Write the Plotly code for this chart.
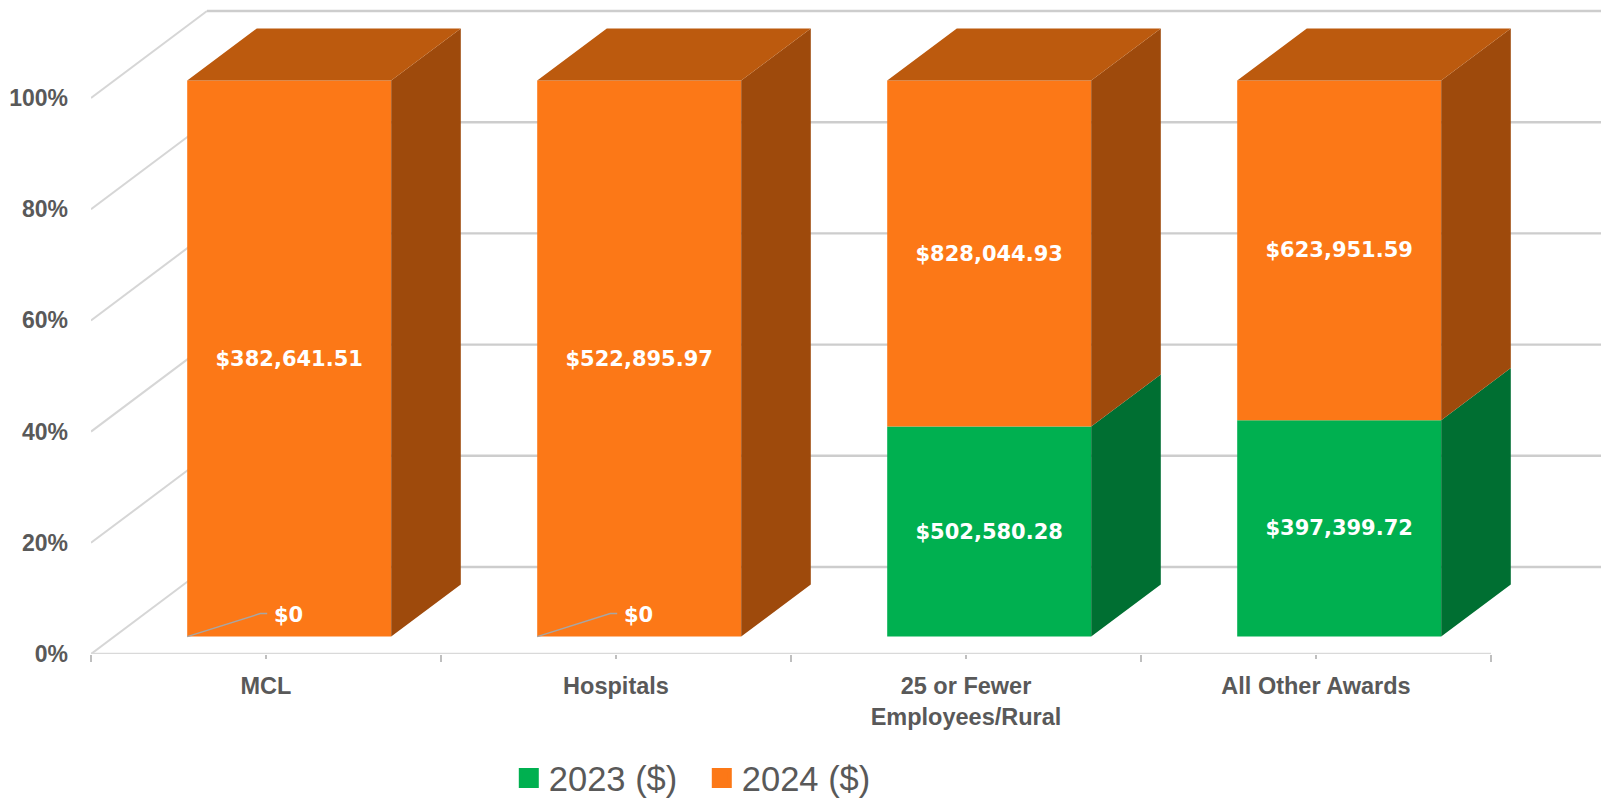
import plotly.graph_objects as go

categories = ["MCL", "Hospitals", "25 or Fewer<br>Employees/Rural", "All Other Awards"]
values_2023 = [0, 0, 502580.28, 397399.72]
values_2024 = [382641.51, 522895.97, 828044.93, 623951.59]
series_names = ["2023 ($)", "2024 ($)"]
y_ticks = [0, 20, 40, 60, 80, 100]
y_tick_labels = ["0%", "20%", "40%", "60%", "80%", "100%"]

GREEN, GREEN_SIDE = "#00B050", "#006F32"
ORANGE, ORANGE_SIDE, ORANGE_TOP = "#FC7817", "#9E4A0C", "#BC5A0E"
TEXT = "#595959"
FONT = "Liberation Sans"
LABEL_FONT = "DejaVu Sans"

# 3D look: oblique projection, in axis units
DX, DY = 116 / 350, 87 / 5.56
Z0, Z1 = 0.2, 0.8
BAR_W = 204 / 350
XMAX, YMAX = 1510 / 350, 654 / 5.56


def proj(x, y, z):
    return x + DX * z, y + DY * z


totals = [a + b for a, b in zip(values_2023, values_2024)]
pct_2023 = [100 * a / t for a, t in zip(values_2023, totals)]
pct_2024 = [100 * b / t for b, t in zip(values_2024, totals)]

fig = go.Figure()


def money(v):
    return f"${v:,.2f}" if v else ""


bar_x = [proj(i + 0.5, 0, Z0)[0] for i in range(4)]
base_y = proj(0, 0, Z0)[1]

fig.add_bar(x=bar_x, y=pct_2023, base=[base_y] * 4, width=BAR_W,
            marker=dict(color=GREEN, line=dict(width=0)), name=series_names[0],
            legendgroup="a", showlegend=False,
            text=[money(v) for v in values_2023])
fig.add_bar(x=bar_x, y=pct_2024, base=[base_y + p for p in pct_2023], width=BAR_W,
            marker=dict(color=ORANGE, line=dict(width=0)), name=series_names[1],
            legendgroup="b", showlegend=False,
            text=[money(v) for v in values_2024])
fig.update_traces(textposition="inside", insidetextanchor="middle", textangle=0,
                  constraintext="none",
                  textfont=dict(family=LABEL_FONT, size=21, color="white", weight=700))


def polygons(faces):
    xs, ys = [], []
    for f in faces:
        for p in f + [f[0]]:
            xs.append(p[0])
            ys.append(p[1])
        xs.append(None)
        ys.append(None)
    return xs, ys


def side_face(i, lo, hi):
    xr = i + 0.5 + BAR_W / 2
    return [proj(xr, lo, Z0), proj(xr, lo, Z1), proj(xr, hi, Z1), proj(xr, hi, Z0)]


def top_face(i, y):
    xl, xr = i + 0.5 - BAR_W / 2, i + 0.5 + BAR_W / 2
    return [proj(xl, y, Z0), proj(xr, y, Z0), proj(xr, y, Z1), proj(xl, y, Z1)]


def add_poly(faces, color, group):
    xs, ys = polygons(faces)
    fig.add_scatter(x=xs, y=ys, mode="lines", fill="toself", fillcolor=color,
                    line=dict(width=0, color=color), hoverinfo="skip",
                    legendgroup=group, showlegend=False)


add_poly([side_face(i, 0, pct_2023[i]) for i in range(4) if pct_2023[i] > 0], GREEN_SIDE, "a")
add_poly([side_face(i, pct_2023[i], 100) for i in range(4)], ORANGE_SIDE, "b")
add_poly([top_face(i, 100) for i in range(4)], ORANGE_TOP, "b")

# Native legend, large square swatches
for name, color, group in [(series_names[0], GREEN, "a"), (series_names[1], ORANGE, "b")]:
    fig.add_scatter(x=[None], y=[None], mode="markers", name=name, legendgroup=group,
                    marker=dict(symbol="square", size=16, color=color,
                                line=dict(width=4, color=color)))

# Leader lines and labels of the zero segments
for i, v in enumerate(values_2023):
    if v == 0:
        x0, y0 = proj(i + 0.5 - BAR_W / 2, 0, Z0)
        fig.add_scatter(x=[x0, x0 + 73 / 350, x0 + 80 / 350],
                        y=[y0, y0 + 23 / 5.56, y0 + 23 / 5.56],
                        mode="lines", line=dict(color="#A6A6A6", width=1.5),
                        hoverinfo="skip", showlegend=False)
        fig.add_annotation(x=x0 + 101 / 350, y=y0 + 22 / 5.56, text="$0", showarrow=False,
                           font=dict(family=LABEL_FONT, size=21, color="white", weight=700))

# Walls: gridlines run along the floor side, then along the back wall
shapes = []
for t in y_ticks:
    fx, fy = proj(0, t, 0)
    bx, by = proj(0, t, 1)
    ex, ey = proj(4, t, 1)
    shapes.append(dict(type="line", xref="x", yref="y", layer="below",
                       x0=fx, y0=fy, x1=bx, y1=by,
                       line=dict(color="#D6D6D6", width=2)))
    shapes.append(dict(type="line", xref="x", yref="y", layer="below",
                       x0=bx, y0=by, x1=ex, y1=ey,
                       line=dict(color="#CDCDCD", width=2.4)))
shapes.append(dict(type="line", xref="x", yref="y", layer="below", x0=0, y0=0, x1=4, y1=0,
                   line=dict(color="#D9D9D9", width=2.4)))

fig.update_layout(
    width=1601, height=798, autosize=False,
    margin=dict(l=91, r=0, t=0, b=144),
    paper_bgcolor="white", plot_bgcolor="white",
    barmode="overlay", shapes=shapes,
    font=dict(family=FONT, color=TEXT),
    xaxis=dict(range=[0, XMAX], showgrid=False, zeroline=False, showline=False,
               tickmode="array", tickvals=[0.5, 1.5, 2.5, 3.5], ticktext=categories,
               ticks="outside", ticklen=4, tickcolor="#BFBFBF", tickwidth=1.5,
               ticklabelstandoff=7,
               minor=dict(tickmode="array", tickvals=[0, 1, 2, 3, 4], ticks="outside",
                          ticklen=7, tickcolor="#BFBFBF", tickwidth=1.5),
               tickfont=dict(family=FONT, size=23.5, color=TEXT, weight=700)),
    yaxis=dict(range=[0, YMAX], showgrid=False, zeroline=False, showline=False,
               tickmode="array", tickvals=y_ticks, ticktext=y_tick_labels,
               ticks="", ticklabelstandoff=22,
               tickfont=dict(family=FONT, size=23, color=TEXT, weight=700)),
    legend=dict(orientation="h", x=0.4045, xanchor="center", y=0.025, yanchor="middle",
                yref="container", font=dict(family="Liberation Sans", size=34.5, color=TEXT),
                bgcolor="rgba(0,0,0,0)", entrywidth=148, entrywidthmode="pixels"),
)

fig.write_html("out.html", config=dict(displayModeBar=False),
               post_script="document.body.style.margin='0';document.body.style.overflow='hidden';")
